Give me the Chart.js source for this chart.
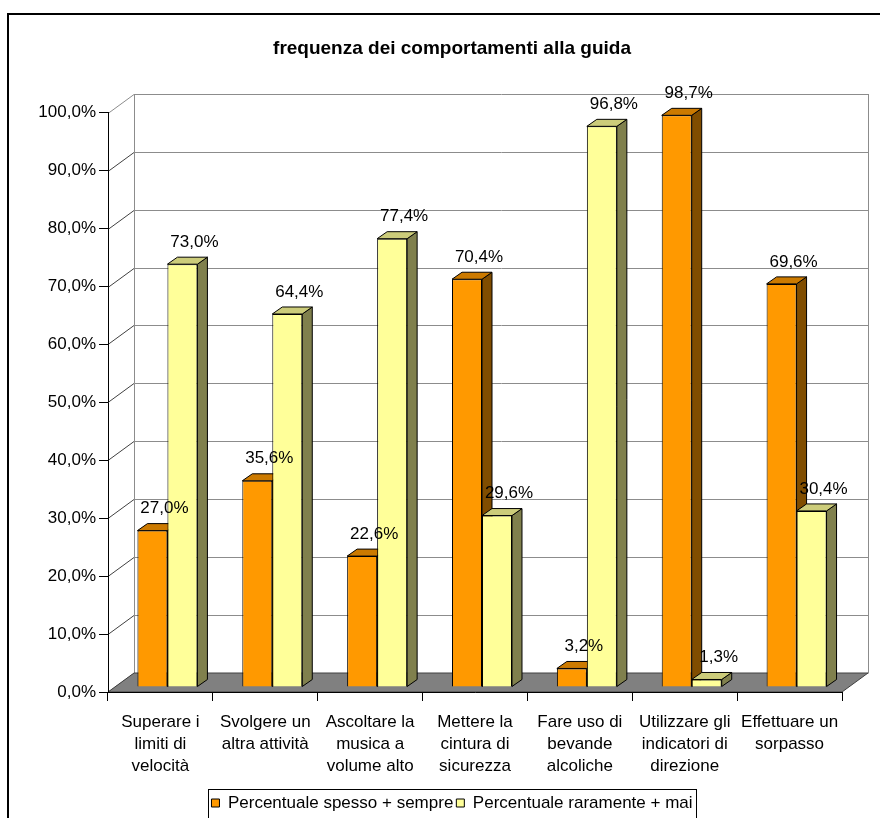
<!DOCTYPE html>
<html lang="it">
<head>
  <meta charset="UTF-8" />
  <title>frequenza dei comportamenti alla guida</title>
  <script src="https://cdn.jsdelivr.net/npm/chart.js@4.4.1/dist/chart.umd.min.js"></script>
  <style>
    body { margin: 0; background: #fff; }
    canvas { display: block; }
  </style>
</head>
<body>
  <canvas id="chart" width="880" height="818"></canvas>

  <script>
    // dati
    const categories = [
      ['Superare i', 'limiti di', 'velocità'],
      ['Svolgere un', 'altra attività'],
      ['Ascoltare la', 'musica a', 'volume alto'],
      ['Mettere la', 'cintura di', 'sicurezza'],
      ['Fare uso di', 'bevande', 'alcoliche'],
      ['Utilizzare gli', 'indicatori di', 'direzione'],
      ['Effettuare un', 'sorpasso']
    ];
    const spessoSempre = [27.0, 35.6, 22.6, 70.4, 3.2, 98.7, 69.6];
    const raramenteMai = [73.0, 64.4, 77.4, 29.6, 96.8, 1.3, 30.4];
    const yMin = 0, yMax = 100, yStep = 10;

    const FONT = "'Liberation Sans', Arial, sans-serif";
    const WALL = { dx: 26, dy: -19 };      // profondità pavimento / parete
    const SHIFT = { dx: 7, dy: -5 };       // barre un po' dentro il pavimento
    const BAR = { dx: 10, dy: -7 };        // spessore 3D delle barre
    const faceColors = [
      { top: '#CC7A00', side: '#804D00' },
      { top: '#CCCC7A', side: '#80804D' }
    ];

    const pct = v => v.toFixed(1).replace('.', ',') + '%';

    function poly(ctx, pts, fill) {
      ctx.beginPath();
      ctx.moveTo(pts[0][0], pts[0][1]);
      for (let i = 1; i < pts.length; i++) ctx.lineTo(pts[i][0], pts[i][1]);
      ctx.closePath();
      ctx.fillStyle = fill;
      ctx.fill();
      ctx.stroke();
    }

    const scene3d = {
      id: 'scene3d',
      beforeDraw(chart) {
        const ctx = chart.ctx, a = chart.chartArea, ys = chart.scales.y;
        ctx.save();
        // cornice esterna
        ctx.strokeStyle = '#000';
        ctx.lineWidth = 2;
        ctx.strokeRect(8, 14, chart.width + 20, chart.height + 20);

        // griglia parete di fondo e parete laterale
        ctx.lineWidth = 1;
        const bl = Math.round(a.left + WALL.dx) + 0.5;
        const br = Math.round(a.right + WALL.dx) + 0.5;
        ys.ticks.forEach(t => {
          const py = Math.round(ys.getPixelForValue(t.value));
          ctx.strokeStyle = '#8c8c8c';
          ctx.beginPath();
          ctx.moveTo(bl, py + WALL.dy + 0.5);
          ctx.lineTo(br, py + WALL.dy + 0.5);
          ctx.stroke();
          ctx.strokeStyle = t.value === yMax ? '#8c8c8c' : '#404040';
          ctx.beginPath();
          ctx.moveTo(a.left, py + 0.5);
          ctx.lineTo(a.left + WALL.dx, py + WALL.dy + 0.5);
          ctx.stroke();
        });
        const top = Math.round(ys.getPixelForValue(yMax)) + WALL.dy;
        const bot = Math.round(ys.getPixelForValue(yMin)) + WALL.dy;
        ctx.strokeStyle = '#8c8c8c';
        ctx.beginPath();
        ctx.moveTo(bl, top); ctx.lineTo(bl, bot);
        ctx.moveTo(br, top); ctx.lineTo(br, bot);
        ctx.stroke();

        // pavimento
        ctx.strokeStyle = '#404040';
        poly(ctx, [
          [a.left, a.bottom], [a.right, a.bottom],
          [a.right + WALL.dx, a.bottom + WALL.dy], [a.left + WALL.dx, a.bottom + WALL.dy]
        ], '#808080');
        ctx.restore();
      },
      beforeDatasetsDraw(chart) {
        const ctx = chart.ctx;
        ctx.save();
        ctx.translate(SHIFT.dx, SHIFT.dy);
        ctx.strokeStyle = '#000';
        ctx.lineWidth = 1;
        chart.data.datasets.forEach((ds, i) => {
          const fc = faceColors[i];
          chart.getDatasetMeta(i).data.forEach(bar => {
            const { x, y, base, width } = bar.getProps(['x', 'y', 'base', 'width'], true);
            const l = x - width / 2, r = x + width / 2;
            poly(ctx, [[r, y], [r + BAR.dx, y + BAR.dy], [r + BAR.dx, base + BAR.dy], [r, base]], fc.side);
            poly(ctx, [[l, y], [r, y], [r + BAR.dx, y + BAR.dy], [l + BAR.dx, y + BAR.dy]], fc.top);
          });
        });
      },
      afterDatasetsDraw(chart) {
        const ctx = chart.ctx;
        ctx.fillStyle = '#000';
        ctx.font = '17px ' + FONT;
        ctx.textAlign = 'center';
        ctx.textBaseline = 'middle';
        chart.data.datasets.forEach((ds, i) => {
          chart.getDatasetMeta(i).data.forEach((bar, j) => {
            const { x, y } = bar.getProps(['x', 'y'], true);
            ctx.fillText(pct(ds.data[j]), x + 12, y - 22);
          });
        });
        ctx.restore();
      },
      afterDraw(chart) {
        // cornice della legenda
        const ctx = chart.ctx, lg = chart.legend, hb = lg.legendHitBoxes;
        const last = hb[hb.length - 1];
        const l = Math.round(hb[0].left - 3) + 0.5;
        const r = Math.round(last.left + last.width + 3) + 0.5;
        const mid = hb[0].top + hb[0].height / 2;
        ctx.save();
        ctx.strokeStyle = '#000';
        ctx.lineWidth = 1;
        ctx.strokeRect(l, Math.round(mid - 14) + 0.5, r - l, 60);
        ctx.restore();
      }
    };

    new Chart(document.getElementById('chart').getContext('2d'), {
      type: 'bar',
      data: {
        labels: categories,
        datasets: [{
          label: 'Percentuale spesso + sempre',
          data: spessoSempre,
          backgroundColor: '#FF9900',
          borderColor: '#000',
          borderWidth: 1,
          clip: false
        }, {
          label: 'Percentuale raramente + mai',
          data: raramenteMai,
          backgroundColor: '#FFFF99',
          borderColor: '#000',
          borderWidth: 1,
          clip: false
        }]
      },
      options: {
        responsive: false,
        animation: false,
        devicePixelRatio: 1,
        // la legenda è tagliata dal bordo inferiore come nell'originale
        layout: { padding: { left: 24, right: 0, top: 0, bottom: -3.5 } },
        datasets: { bar: { categoryPercentage: 0.572, barPercentage: 1.0 } },
        scales: {
          x: {
            afterFit: s => { s.height = 99.5; },
            grid: { offset: true, drawOnChartArea: false, tickLength: 9, color: '#000' },
            border: { display: true, color: '#000' },
            ticks: { color: '#000', padding: 10, maxRotation: 0, autoSkip: false,
                     font: { family: FONT, size: 17, lineHeight: 1.3 } }
          },
          y: {
            min: yMin,
            max: yMax,
            afterFit: s => { s.width = 84; },
            grid: { drawOnChartArea: false, tickLength: 9, color: '#000' },
            border: { display: true, color: '#000' },
            ticks: { stepSize: yStep, color: '#000', padding: 3,
                     font: { family: FONT, size: 17 },
                     callback: v => pct(v) }
          },
          // spazio vuoto a destra (la cornice originale prosegue oltre il bordo)
          pad: {
            type: 'linear',
            position: 'right',
            afterFit: s => { s.width = 38; },
            grid: { display: false },
            border: { display: false },
            ticks: { display: false }
          }
        },
        plugins: {
          title: {
            display: true,
            text: 'frequenza dei comportamenti alla guida',
            color: '#000',
            font: { family: FONT, size: 19, weight: 'bold' },
            padding: { top: 37, bottom: 53 }
          },
          legend: {
            position: 'bottom',
            labels: { color: '#000', boxWidth: 8, boxHeight: 8, padding: 3,
                      font: { family: FONT, size: 17 } }
          },
          tooltip: { enabled: false }
        }
      },
      plugins: [scene3d]
    });
  </script>
</body>
</html>
